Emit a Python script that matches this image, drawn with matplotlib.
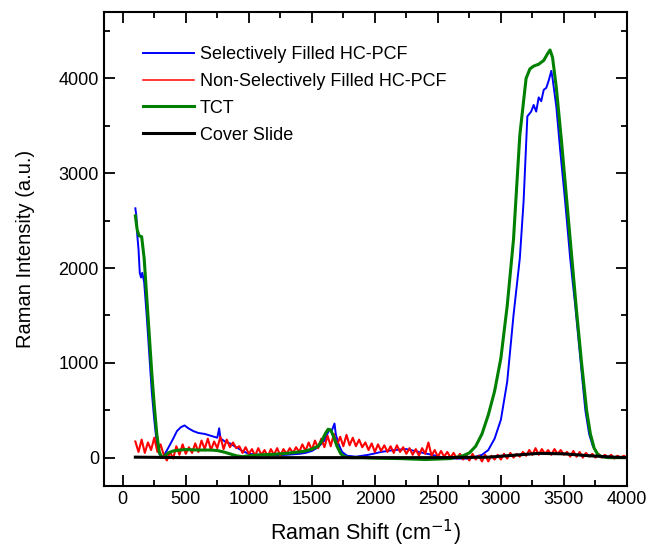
import numpy as np
import matplotlib.pyplot as plt
from matplotlib.ticker import MultipleLocator

plt.rcParams['font.family'] = ['Liberation Sans', 'DejaVu Sans']

# Selectively Filled HC-PCF
blue_x = [100, 108, 115, 125, 135, 145, 155, 170, 190, 210, 230, 250, 270, 290, 310, 330, 360,
          400, 430, 460, 490, 520, 560, 600, 650, 700, 750, 765, 775, 790, 810, 850, 900, 950,
          1000, 1100, 1200, 1300, 1400, 1450, 1500, 1550, 1600, 1640, 1660, 1680, 1690, 1710,
          1740, 1780, 1850, 1950, 2050, 2150, 2250, 2350, 2450, 2550, 2650, 2750, 2850, 2900,
          2950, 3000, 3050, 3100, 3150, 3180, 3210, 3240, 3260, 3280, 3300, 3320, 3340, 3360,
          3380, 3400, 3410, 3440, 3470, 3510, 3550, 3590, 3630, 3670, 3700, 3730, 3770, 3800,
          3850, 4000]
blue_y = [2630, 2550, 2350, 2200, 1950, 1900, 1950, 1850, 1500, 1100, 700, 400, 150, 40, 0, 30, 100,
          200, 280, 320, 340, 310, 280, 260, 250, 230, 210, 310, 200, 190, 170, 150, 110, 70,
          40, 30, 25, 30, 40, 50, 70, 110, 180, 300, 290, 360, 250, 150,
          60, 20, 10, 30, 60, 80, 90, 60, 30, 0, -10, -10, 30, 80,
          200, 400, 800, 1500, 2100, 2700, 3600, 3650, 3720, 3650, 3800, 3760, 3880, 3900,
          3980, 4080, 4000, 3700, 3250, 2700, 2100, 1600, 1050, 500, 250, 120, 30, 10,
          0, 0]

# Non-Selectively Filled HC-PCF, sampled every 25 cm-1 from 100 to 4000 (noisy)
red_x = np.arange(100, 4001, 25)
red_y = [170, 60, 190, 50, 160, 80, 210, 60, 140,
         30, -30, 60, -10,
         120, 30, 140, 40, 110, 50, 150, 60,
         180, 90, 200, 80, 170, 100, 220, 90, 190, 110, 160, 100,
         120, 50, 110, 40,
         90, 20, 100, 30, 80, 10, 90, 30, 100, 20, 90, 40, 100, 50, 110, 60,
         140, 70, 160, 80, 180, 100, 200, 110,
         230, 120, 250, 130, 220, 120, 240, 130, 210, 120, 190, 110,
         160, 80, 150, 60, 140, 70, 130, 60, 120, 50, 130, 60,
         110, 40, 100, 30, 90, 20, 100, 40, 160, 20, 80, 10,
         70, 10, 60, 0, 50, -10, 40, -20,
         30, -30, 40, -20, 20, -40, 30, -40, 20, -20, 30, -20,
         40, -10, 50, 0, 40, 10, 60, 20,
         80, 30, 100, 30, 90, 40, 80, 30, 90, 40, 80, 30,
         60, 10, 70, 10, 60, 0, 50, 10, 40, 0, 40, 0,
         30, 0, 30, -10, 20, 0, 20, 0]

# TCT
green_x = [100, 115, 130, 150, 170, 190, 210, 230, 250, 270, 290, 310, 330, 360, 400, 450, 500,
           600, 700, 750, 800, 850, 900, 950, 1000, 1100, 1200, 1300, 1400, 1450, 1500, 1550,
           1580, 1610, 1630, 1650, 1670, 1700, 1730, 1760, 1800, 1900, 2000, 2200, 2400, 2600,
           2700, 2750, 2800, 2850, 2900, 2950, 3000, 3050, 3100, 3150, 3200, 3230, 3260, 3300,
           3340, 3370, 3390, 3410, 3440, 3480, 3520, 3560, 3600, 3640, 3680, 3710, 3740, 3770,
           3800, 3850, 4000]
green_y = [2550, 2400, 2340, 2330, 2100, 1700, 1300, 900, 550, 250, 60, 0, 10, 50, 70, 80, 85,
           80, 80, 75, 60, 40, 20, 10, 20, 30, 35, 45, 60, 70, 90, 120,
           180, 260, 300, 290, 230, 120, 40, 10, 0, 0, -5, -10, -20, -10,
           20, 50, 120, 250, 450, 700, 1050, 1600, 2300, 3400, 4000, 4100, 4130, 4150,
           4190, 4260, 4300, 4220, 3900, 3350, 2750, 2150, 1550, 1000, 500, 250, 100, 30,
           10, 0, 0]

# Cover Slide
black_x = [100, 500, 1000, 1500, 2000, 2500, 2900, 3100, 3300, 3500, 3700, 3900, 4000]
black_y = [5, 0, 0, 0, 0, 0, 5, 25, 45, 40, 20, 5, 0]

fig = plt.figure(figsize=(6.49, 5.48), dpi=100)
ax = fig.add_axes([0.160, 0.113, 0.806, 0.865])

ax.plot(blue_x, blue_y, color='#0000ff', lw=1.4, label='Selectively Filled HC-PCF')
ax.plot(red_x, red_y, color='#ff0000', lw=1.5, label='Non-Selectively Filled HC-PCF')
ax.plot(green_x, green_y, color='#008000', lw=2.2, label='TCT')
ax.plot(black_x, black_y, color='black', lw=2.2, label='Cover Slide')

ax.set_xlim(-150, 4000)
ax.set_ylim(-300, 4700)
ax.xaxis.set_major_locator(MultipleLocator(500))
ax.xaxis.set_minor_locator(MultipleLocator(250))
ax.yaxis.set_major_locator(MultipleLocator(1000))
ax.yaxis.set_minor_locator(MultipleLocator(500))
ax.tick_params(which='both', direction='in', top=True, right=True, width=1.3, labelsize=13)
ax.tick_params(which='major', length=8)
ax.tick_params(which='minor', length=4)
for s in ax.spines.values():
    s.set_linewidth(1.5)

ax.set_xlabel('Raman Shift (cm$^{-1}$)', fontsize=15.5, labelpad=7)
ax.set_ylabel('Raman Intensity (a.u.)', fontsize=14.5, labelpad=17)

leg = ax.legend(loc='upper left', bbox_to_anchor=(0.044, 0.962), frameon=False, fontsize=13,
                handlelength=2.8, handletextpad=0.35, labelspacing=0.54)
leg.get_lines()[1].set_linewidth(1.1)

plt.savefig('out.png', dpi=100)
